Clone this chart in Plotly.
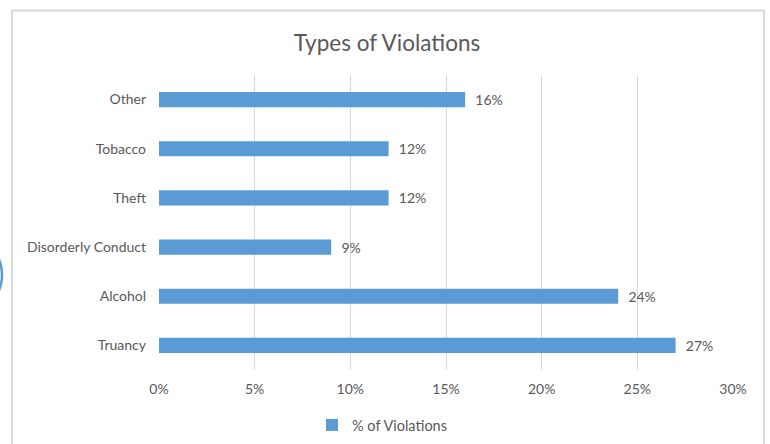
import plotly.graph_objects as go

categories = ["Truancy", "Alcohol", "Disorderly Conduct", "Theft", "Tobacco", "Other"]
values = [27, 24, 9, 12, 12, 16]
tick_vals = [0, 5, 10, 15, 20, 25, 30]
tick_text = ["0%", "5%", "10%", "15%", "20%", "25%", "30%"]
series_name = "% of Violations"

FONT = "Lato"
TXT = "#595959"

fig = go.Figure()
fig.add_trace(go.Bar(
    y=categories, x=values, orientation="h", name=series_name,
    marker=dict(color="#5B9BD5", line=dict(width=0)),
    texttemplate="\u00a0\u00a0%{x}%", textposition="outside", constraintext="none",
    textfont=dict(family=FONT, size=14, color=TXT),
    cliponaxis=False, showlegend=True,
))

L, R, T, B = 159, 37, 75, 74
W, H = 770, 444
pw, ph = W - L - R, H - T - B

def px(x):
    return (x - L) / pw

def py(y):
    return (H - B - y) / ph

fig.update_layout(
    width=W, height=H,
    margin=dict(l=L, r=R, t=T, b=B, autoexpand=False),
    paper_bgcolor="white", plot_bgcolor="white",
    bargap=0.69,
    font=dict(family=FONT, color=TXT, size=14),
    title=dict(text="Types of Violations", x=387 / W, xref="container", xanchor="center",
               y=1 - 43 / H, yanchor="middle",
               font=dict(family=FONT, size=22.5, color=TXT)),
    xaxis=dict(range=[0, 30], tickvals=tick_vals, ticktext=tick_text,
               showgrid=True, gridcolor="#D9D9D9", gridwidth=1, zeroline=False,
               showline=False, ticks="", ticklabelstandoff=9,
               tickfont=dict(family=FONT, size=14, color=TXT)),
    yaxis=dict(showgrid=False, zeroline=False, showline=False, ticks="",
               ticklabelstandoff=12,
               tickfont=dict(family=FONT, size=14, color=TXT)),
    legend=dict(orientation="h", x=px(312), xanchor="left", y=py(425), yanchor="middle",
                font=dict(family=FONT, size=14.5, color=TXT), itemwidth=30),
    shapes=[
        dict(type="rect", xref="paper", yref="paper", x0=px(12), x1=px(764), y0=py(450), y1=py(10.5),
             line=dict(color="#DADADA", width=2), fillcolor="rgba(0,0,0,0)", layer="below"),
        dict(type="circle", xref="paper", yref="paper", x0=px(-80), x1=px(2), y0=py(315), y1=py(235),
             line=dict(color="#5B9BD5", width=2.5), fillcolor="rgba(0,0,0,0)"),
    ],
)

fig.write_html("out.html", config={"displayModeBar": False},
               post_script="document.body.style.margin='0';")
